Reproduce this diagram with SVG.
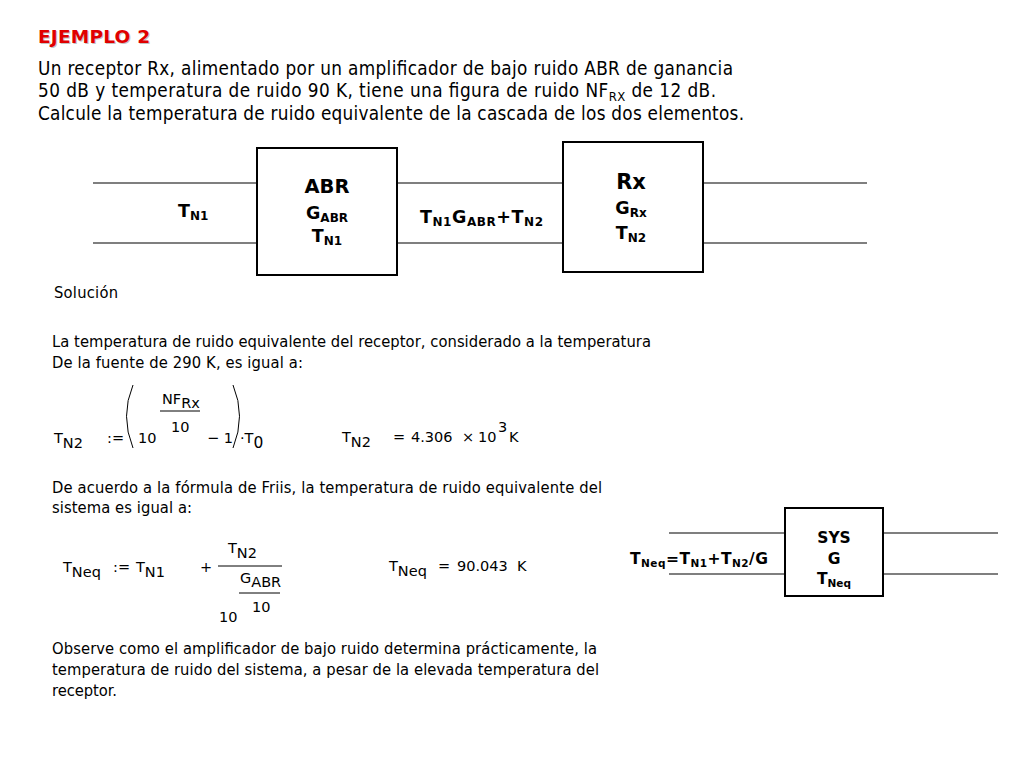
<svg xmlns="http://www.w3.org/2000/svg" width="1024" height="768" viewBox="0 0 1024 768">
<style>
.body{font-family:"DejaVu Sans Condensed","DejaVu Sans",sans-serif;font-stretch:condensed;font-size:18.8px;fill:#000}
.small{font-family:"DejaVu Sans Condensed","DejaVu Sans",sans-serif;font-stretch:condensed;font-size:16.4px;fill:#000}
.lbl{font-family:"DejaVu Sans",Verdana,sans-serif;font-weight:bold;fill:#000}
.math{font-family:"DejaVu Sans",Verdana,sans-serif;font-size:14.5px;fill:#000}
.box{fill:#fff;stroke:#000;stroke-width:2}
.wire{stroke:#555;stroke-width:1.5;fill:none}
.frac{stroke:#000;stroke-width:1;fill:none}
</style>
<rect width="1024" height="768" fill="#fff"/>

<g id="title">
<text x="39" y="44" font-family="DejaVu Sans,Verdana,sans-serif" font-weight="bold" font-size="18.5" fill="#888" opacity="0.5" textLength="112">EJEMPLO 2</text>
<text x="38" y="43" font-family="DejaVu Sans,Verdana,sans-serif" font-weight="bold" font-size="18.5" fill="#e00000" textLength="112">EJEMPLO 2</text>
<text class="body" x="38" y="75" textLength="695">Un receptor Rx, alimentado por un amplificador de bajo ruido ABR de ganancia</text>
<text class="body" x="38" y="97" textLength="678">50 dB y temperatura de ruido 90 K, tiene una figura de ruido NF<tspan font-size="13" dy="4">RX</tspan><tspan dy="-4"> de 12 dB.</tspan></text>
<text class="body" x="38" y="120" textLength="706">Calcule la temperatura de ruido equivalente de la cascada de los dos elementos.</text>
</g>

<g id="connectors">
<line class="wire" x1="93" y1="183" x2="257" y2="183"/>
<line class="wire" x1="93" y1="243" x2="257" y2="243"/>
<line class="wire" x1="397" y1="183" x2="563" y2="183"/>
<line class="wire" x1="397" y1="243" x2="563" y2="243"/>
<line class="wire" x1="703" y1="183" x2="867" y2="183"/>
<line class="wire" x1="703" y1="243" x2="867" y2="243"/>
<line class="wire" x1="669" y1="533" x2="785" y2="533"/>
<line class="wire" x1="669" y1="574" x2="785" y2="574"/>
<line class="wire" x1="883" y1="533" x2="998" y2="533"/>
<line class="wire" x1="883" y1="574" x2="998" y2="574"/>
</g>

<g id="label-tn1">
<text class="lbl" x="178" y="217" font-size="17.5">T<tspan font-size="12" dy="3">N1</tspan></text>
</g>

<g id="node-abr">
<rect class="box" x="257" y="148" width="140" height="127"/>
<text class="lbl" x="327" y="193" font-size="19.5" text-anchor="middle">ABR</text>
<text class="lbl" x="327" y="219" font-size="17.5" text-anchor="middle">G<tspan font-size="12" dy="3">ABR</tspan></text>
<text class="lbl" x="327" y="242" font-size="17.5" text-anchor="middle">T<tspan font-size="12" dy="3">N1</tspan></text>
</g>

<g id="label-mid">
<text class="lbl" x="420" y="223" font-size="17.5" textLength="123">T<tspan font-size="12" dy="3">N1</tspan><tspan dy="-3">G</tspan><tspan font-size="12" dy="3">ABR</tspan><tspan dy="-3">+T</tspan><tspan font-size="12" dy="3">N2</tspan></text>
</g>

<g id="node-rx">
<rect class="box" x="563" y="142" width="140" height="130"/>
<text class="lbl" x="631" y="189" font-size="21" text-anchor="middle">Rx</text>
<text class="lbl" x="631" y="214" font-size="17.5" text-anchor="middle">G<tspan font-size="12" dy="3">Rx</tspan></text>
<text class="lbl" x="631" y="239" font-size="17.5" text-anchor="middle">T<tspan font-size="12" dy="3">N2</tspan></text>
</g>

<g id="solution">
<text class="small" x="54" y="298" textLength="64">Solución</text>
<text class="small" x="52" y="347" textLength="599">La temperatura de ruido equivalente del receptor, considerado a la temperatura</text>
<text class="small" x="52" y="368" textLength="251">De la fuente de 290 K, es igual a:</text>
</g>

<g id="formula1">
<text class="math" x="54" y="443" font-size="15.5">T<tspan dy="5">N2</tspan></text>
<text class="math" x="107" y="443">:=</text>
<path class="frac" d="M133,385 Q120,416 133,448"/>
<text class="math" x="138" y="443">10</text>
<text class="math" x="162" y="404" font-size="12.5">NF<tspan dy="4">Rx</tspan></text>
<line class="frac" x1="160" y1="411" x2="200" y2="411"/>
<text class="math" x="171" y="432" font-size="12.5">10</text>
<text class="math" x="207" y="443">− 1</text>
<path class="frac" d="M233,385 Q246,416 233,448"/>
<text class="math" x="240" y="443">·T<tspan font-size="15.5" dy="5">0</tspan></text>
<text class="math" x="342" y="442" font-size="15.5">T<tspan dy="5">N2</tspan></text>
<text class="math" x="393" y="442">=</text>
<text class="math" x="411" y="442">4.306</text>
<text class="math" x="462" y="442">×</text>
<text class="math" x="478" y="442">10</text>
<text class="math" x="498" y="432" font-size="13.5">3</text>
<text class="math" x="509" y="442">K</text>
</g>

<g id="friis">
<text class="small" x="52" y="493" textLength="550">De acuerdo a la fórmula de Friis, la temperatura de ruido equivalente del</text>
<text class="small" x="52" y="513" textLength="140">sistema es igual a:</text>
</g>

<g id="formula2">
<text class="math" x="63" y="572" font-size="15.5">T<tspan dy="5">Neq</tspan></text>
<text class="math" x="113" y="572">:=</text>
<text class="math" x="136" y="572" font-size="15.5">T<tspan dy="5">N1</tspan></text>
<text class="math" x="200" y="572" font-size="12">+</text>
<text class="math" x="228" y="553" font-size="15.5">T<tspan dy="5">N2</tspan></text>
<line class="frac" x1="218" y1="566" x2="282" y2="566"/>
<text class="math" x="240" y="583" font-size="12.5">G<tspan dy="4">ABR</tspan></text>
<line class="frac" x1="239" y1="593" x2="280" y2="593"/>
<text class="math" x="252" y="612" font-size="12.5">10</text>
<text class="math" x="219" y="622">10</text>
<text class="math" x="389" y="571" font-size="15.5">T<tspan dy="5">Neq</tspan></text>
<text class="math" x="438" y="571">=</text>
<text class="math" x="457" y="571">90.043</text>
<text class="math" x="517" y="571">K</text>
</g>

<g id="label-tneq">
<text class="lbl" x="630" y="564" font-size="15.5" textLength="138">T<tspan font-size="10.5" dy="3">Neq</tspan><tspan dy="-3">=T</tspan><tspan font-size="10.5" dy="3">N1</tspan><tspan dy="-3">+T</tspan><tspan font-size="10.5" dy="3">N2</tspan><tspan dy="-3">/G</tspan></text>
</g>

<g id="node-sys">
<rect class="box" x="785" y="508" width="98" height="88"/>
<text class="lbl" x="834" y="543" font-size="15.5" text-anchor="middle">SYS</text>
<text class="lbl" x="834" y="564" font-size="15.5" text-anchor="middle">G</text>
<text class="lbl" x="834" y="584" font-size="15.5" text-anchor="middle">T<tspan font-size="10.5" dy="3">Neq</tspan></text>
</g>

<g id="conclusion">
<text class="small" x="52" y="654" textLength="545">Observe como el amplificador de bajo ruido determina prácticamente, la</text>
<text class="small" x="52" y="675" textLength="547">temperatura de ruido del sistema, a pesar de la elevada temperatura del</text>
<text class="small" x="52" y="696" textLength="65">receptor.</text>
</g>
</svg>
